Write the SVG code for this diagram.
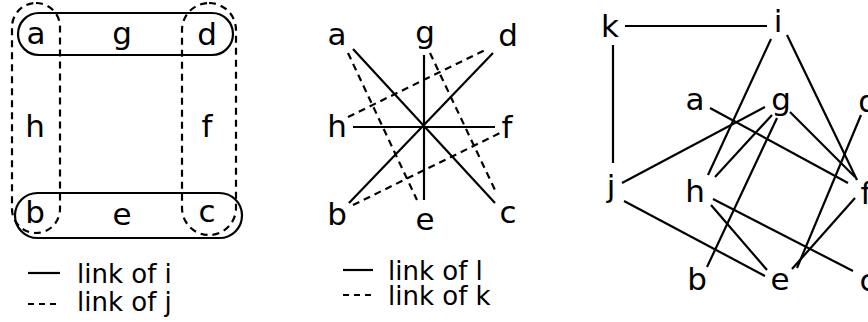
<svg xmlns="http://www.w3.org/2000/svg" width="868" height="322" viewBox="0 0 868 322">
<style>
text{font-family:"DejaVu Sans","Liberation Sans",sans-serif;fill:#000}
.n{font-size:31px;text-anchor:middle}
.lg{font-size:26px}
.s{stroke:#000;stroke-width:2.2;fill:none}
.d{stroke:#000;stroke-width:2.2;fill:none;stroke-dasharray:7 5}
.ld{stroke:#000;stroke-width:2.2;fill:none;stroke-dasharray:6 5}
</style>
<rect width="868" height="322" fill="#fff"/>
<g id="connectors">
  <!-- panel 1 -->
  <rect class="s" x="18" y="13" width="215" height="42" rx="21"/>
  <rect class="s" x="15" y="193" width="227" height="45" rx="22.5"/>
  <rect class="d" x="12" y="3" width="48" height="230" rx="24"/>
  <rect class="d" x="182" y="3" width="54" height="232" rx="27"/>
  <!-- panel 2 -->
  <line class="s" x1="353" y1="49" x2="495" y2="203"/>
  <line class="s" x1="493" y1="53" x2="349" y2="203"/>
  <line class="s" x1="424" y1="55" x2="424" y2="200"/>
  <line class="s" x1="353" y1="127" x2="495" y2="127"/>
  <line class="d" x1="348" y1="53" x2="417" y2="200"/>
  <line class="d" x1="430" y1="53" x2="495" y2="190"/>
  <line class="d" x1="348" y1="117" x2="485" y2="50"/>
  <line class="d" x1="353" y1="205" x2="500" y2="133"/>
  <!-- panel 3 -->
  <line class="s" x1="625" y1="26" x2="767" y2="26"/>
  <line class="s" x1="613" y1="45" x2="613" y2="163"/>
  <line class="s" x1="771" y1="39" x2="708" y2="175"/>
  <line class="s" x1="787" y1="35" x2="857" y2="180"/>
  <line class="s" x1="710" y1="108" x2="848" y2="183"/>
  <line class="s" x1="765" y1="107" x2="622" y2="183"/>
  <line class="s" x1="772" y1="115" x2="715" y2="177"/>
  <line class="s" x1="777" y1="118" x2="707" y2="267"/>
  <line class="s" x1="790" y1="112" x2="855" y2="177"/>
  <line class="s" x1="861" y1="115" x2="797" y2="268"/>
  <line class="s" x1="855" y1="198" x2="792" y2="269"/>
  <line class="s" x1="624" y1="201" x2="765" y2="276"/>
  <line class="s" x1="711" y1="205" x2="767" y2="270"/>
  <line class="s" x1="713" y1="199" x2="853" y2="271"/>
</g>
<g id="p1-a"><text class="n" x="36" y="44">a</text></g>
<g id="p1-g"><text class="n" x="122" y="44">g</text></g>
<g id="p1-d"><text class="n" x="207" y="45">d</text></g>
<g id="p1-h"><text class="n" x="35" y="137">h</text></g>
<g id="p1-f"><text class="n" x="207" y="137">f</text></g>
<g id="p1-b"><text class="n" x="35" y="223">b</text></g>
<g id="p1-e"><text class="n" x="122" y="225">e</text></g>
<g id="p1-c"><text class="n" x="207" y="222">c</text></g>
<g id="legend1">
  <line class="s" x1="28" y1="273" x2="60" y2="273"/>
  <text class="lg" x="77" y="283">link of i</text>
  <line class="ld" x1="28" y1="304" x2="60" y2="304"/>
  <text class="lg" x="77" y="311">link of j</text>
</g>
<g id="p2-a"><text class="n" x="337" y="45">a</text></g>
<g id="p2-g"><text class="n" x="425" y="43">g</text></g>
<g id="p2-d"><text class="n" x="508" y="46">d</text></g>
<g id="p2-h"><text class="n" x="337" y="137">h</text></g>
<g id="p2-f"><text class="n" x="507" y="138">f</text></g>
<g id="p2-b"><text class="n" x="337" y="225">b</text></g>
<g id="p2-e"><text class="n" x="425" y="230">e</text></g>
<g id="p2-c"><text class="n" x="508" y="223">c</text></g>
<g id="legend2">
  <line class="s" x1="343" y1="270" x2="373" y2="270"/>
  <text class="lg" x="388" y="280">link of l</text>
  <line class="ld" x1="343" y1="295" x2="373" y2="295"/>
  <text class="lg" x="388" y="305">link of k</text>
</g>
<g id="p3-k"><text class="n" x="610" y="37">k</text></g>
<g id="p3-i"><text class="n" x="778" y="32">i</text></g>
<g id="p3-j"><text class="n" x="611" y="197">j</text></g>
<g id="p3-a"><text class="n" x="695" y="110">a</text></g>
<g id="p3-g"><text class="n" x="781" y="110">g</text></g>
<g id="p3-d"><text class="n" x="868" y="112">d</text></g>
<g id="p3-h"><text class="n" x="695" y="202">h</text></g>
<g id="p3-f"><text class="n" x="866" y="204">f</text></g>
<g id="p3-b"><text class="n" x="697" y="290">b</text></g>
<g id="p3-e"><text class="n" x="780" y="290">e</text></g>
<g id="p3-c"><text class="n" x="868" y="291">c</text></g>
</svg>
